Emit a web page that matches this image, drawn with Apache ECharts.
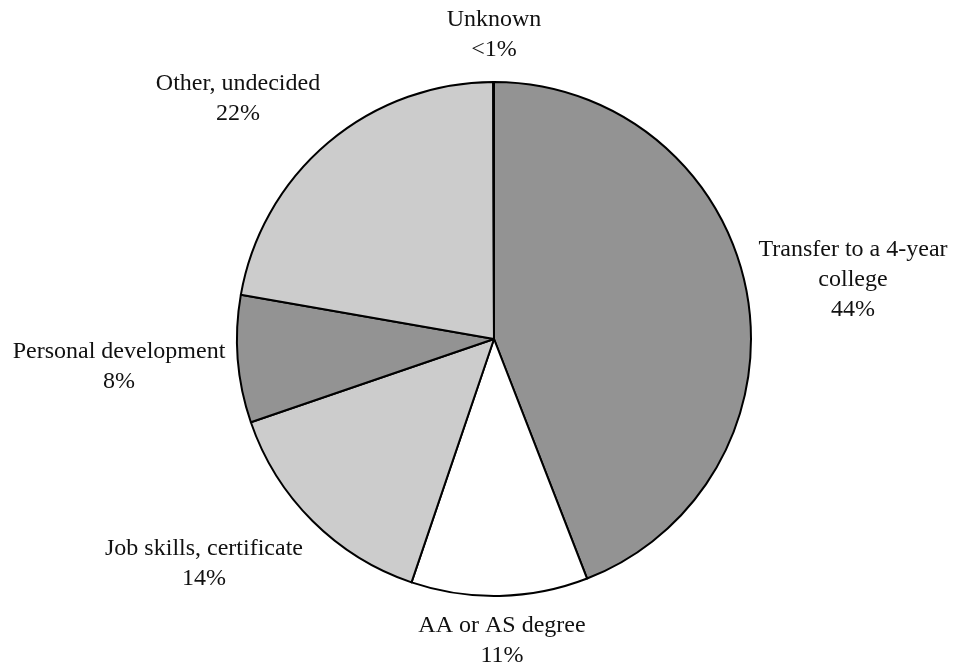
<!DOCTYPE html>
<html>
<head>
<meta charset="utf-8">
<script src="https://cdn.jsdelivr.net/npm/echarts@6/dist/echarts.min.js"></script>
<style>
  html, body { margin: 0; padding: 0; background: #fff; }
  #chart { width: 953px; height: 668px; }
</style>
</head>
<body>
<div id="chart"></div>
<script>
  // slices, clockwise from 12 o'clock
  var categories = ['Transfer to a 4-year\ncollege', 'AA or AS degree', 'Job skills, certificate',
                    'Personal development', 'Other, undecided', 'Unknown'];
  var shares = [44.1, 11.1, 14.55, 8.0, 22.2, 0.05];
  var shareLabels = ['44%', '11%', '14%', '8%', '22%', '<1%'];
  var fills = ['#939393', '#ffffff', '#cccccc', '#939393', '#cccccc', '#cccccc'];

  // where each label block is centred
  var labelPos = [[853, 280], [502, 641], [204, 564], [119, 367], [238, 99], [494, 35]];

  var chart = echarts.init(document.getElementById('chart'));
  chart.setOption({
    animation: false,
    series: [{
      type: 'pie',
      center: [494, 339],
      radius: [0, 257],
      startAngle: 90,
      clockwise: true,
      avoidLabelOverlap: false,
      minAngle: 0,
      data: categories.map(function (c, i) {
        return { name: c, value: shares[i], itemStyle: { color: fills[i] } };
      }),
      itemStyle: { borderColor: '#000', borderWidth: 2 },
      label: {
        show: true,
        position: 'outside',
        formatter: function (p) { return p.name + '\n' + shareLabels[p.dataIndex]; },
        fontFamily: 'Liberation Serif',
        fontSize: 24,
        lineHeight: 30,
        color: '#111',
        align: 'center'
      },
      labelLine: { show: false },
      labelLayout: function (p) {
        var pos = labelPos[p.dataIndex];
        return { x: pos[0], y: pos[1], align: 'center', verticalAlign: 'middle' };
      },
      emphasis: { disabled: true }
    }]
  });
</script>
</body>
</html>
